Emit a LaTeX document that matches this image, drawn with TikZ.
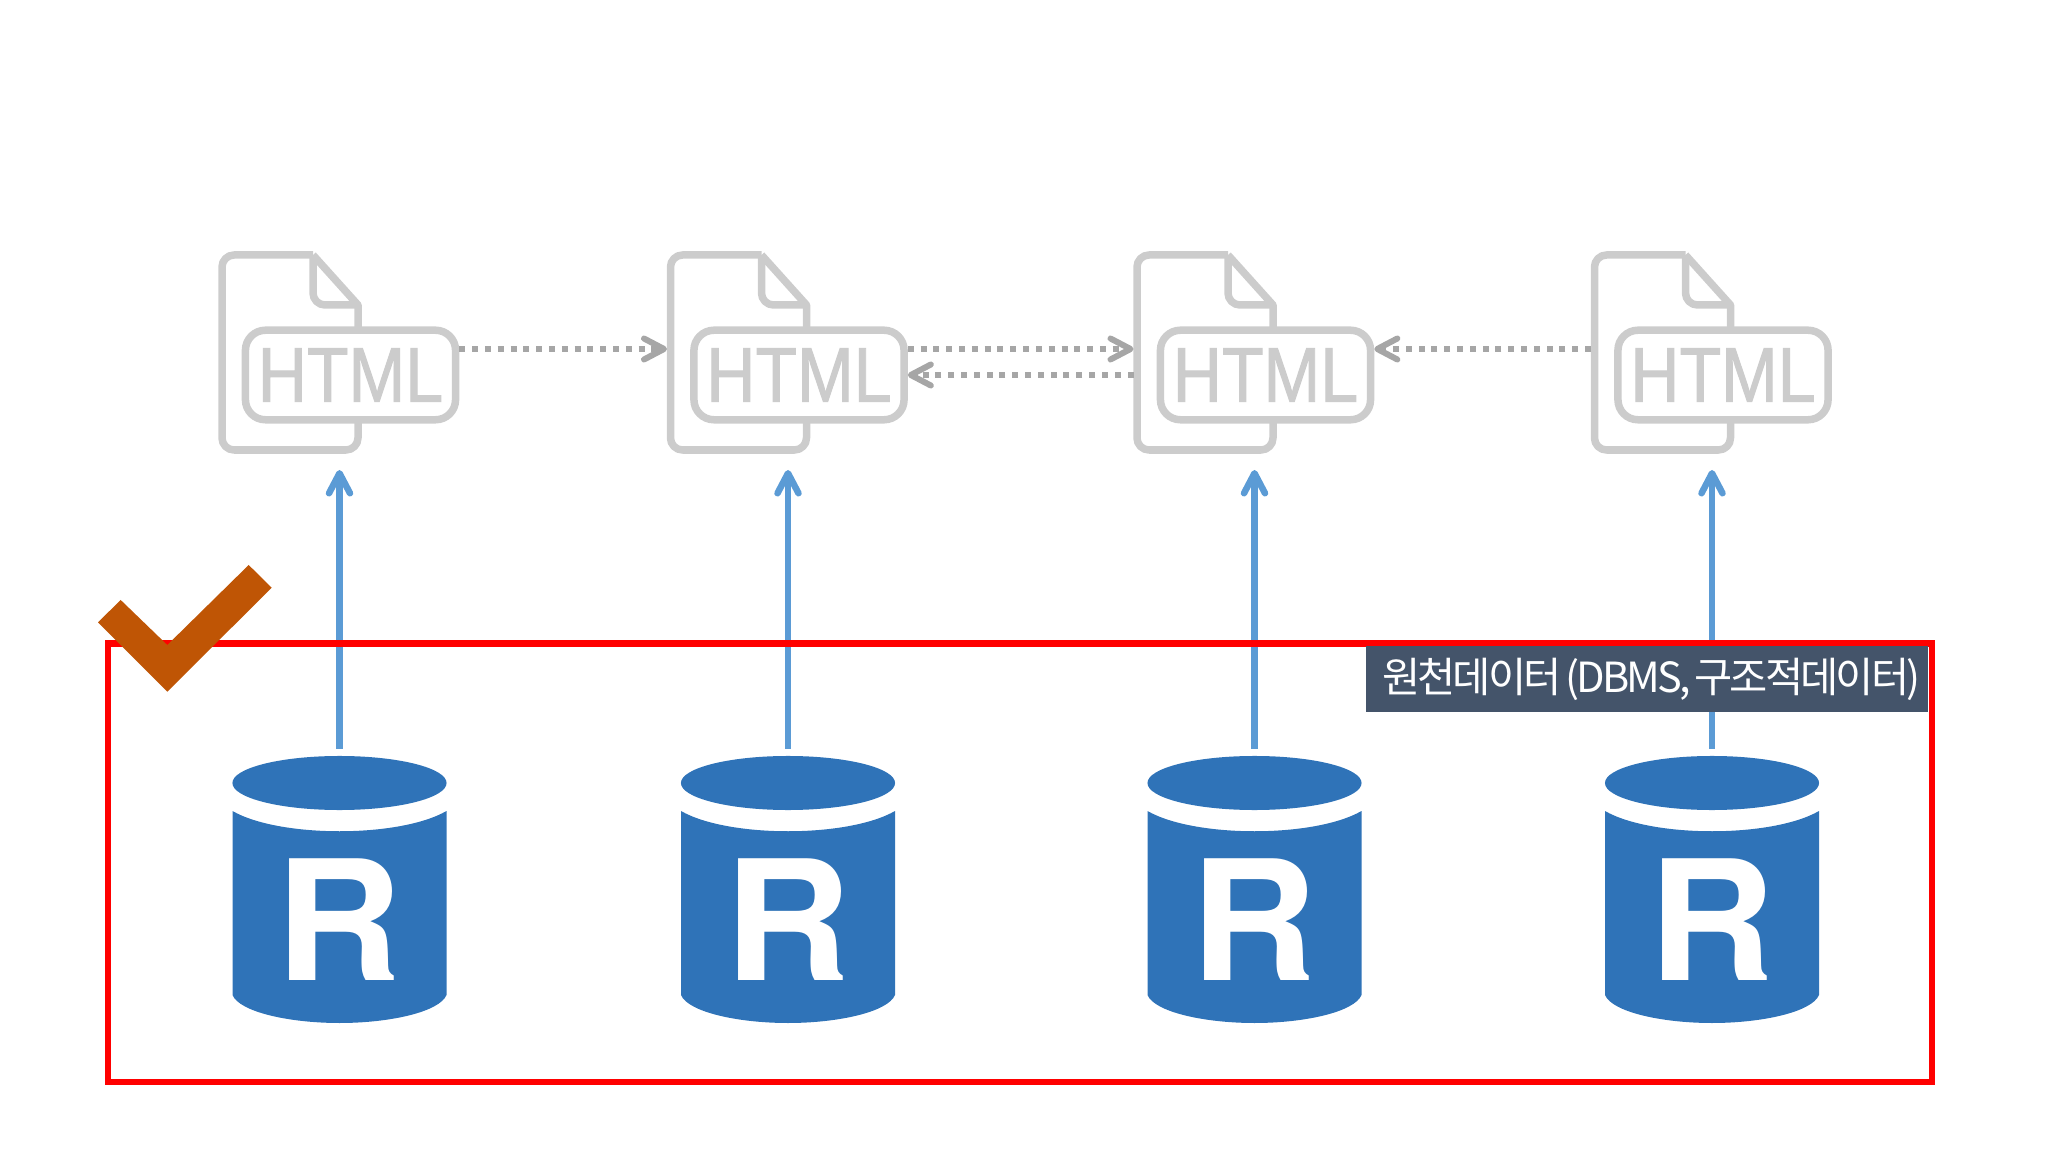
\documentclass[tikz,border=0pt]{standalone}
\usepackage{fontspec}
\usepackage{graphicx}
\usetikzlibrary{arrows.meta}
\newfontfamily\htmlfont[FakeBold=1.4]{Liberation Sans}
\newfontfamily\rfont{TeX Gyre Heros}
\newfontfamily\krfont[LetterSpace=-7,WordSpace=.6]{Noto Sans CJK KR}
\definecolor{docgray}{HTML}{CCCCCC}
\definecolor{linkgray}{HTML}{A6A6A6}
\definecolor{flowblue}{HTML}{5B9BD5}
\definecolor{dbblue}{HTML}{2F73B8}
\definecolor{tickbrown}{HTML}{BF5505}
\definecolor{labelslate}{HTML}{44546A}
\definecolor{boxred}{HTML}{FF0000}
\tikzset{
  docline/.style={docgray, line width=.75mm, line join=round},
  webpage/.style={draw=docgray, line width=.75mm, rounded corners=2mm, fill=white, text=docgray, minimum width=21cm/10, minimum height=8.95mm, inner sep=0pt, font=\htmlfont\fontsize{22}{22}\selectfont},
  dbbody/.style={minimum width=2.14cm, minimum height=2.67cm, inner sep=0pt, outer sep=0pt},
  dbletter/.style={text=white, inner sep=0pt, font=\rfont\bfseries\fontsize{47.5}{47.5}\selectfont},
  hyperlink/.style={linkgray, line width=.6mm, dash pattern=on .6mm off .68mm, -{Straight Barb[length=2mm, width=2.1mm, round]}},
  loadflow/.style={flowblue, line width=.65mm, shorten <=.7mm, -{Straight Barb[length=2mm, width=2.1mm, round]}},
  sitecolumn/.pic={
    % outline, sharp only along the fold
    \draw[docline, rounded corners=1.2mm] (-26.5,255) -- (-117.5,255) -- (-117.5,450) -- (18.5,450) -- (18.5,420);
    \draw[docline] (18.5,327) -- (18.5,305) -- (-26.5,255);
    \draw[docline, rounded corners=1.2mm] (-26.5,255) -- (-26.5,305) -- (18.5,305);
    \node[webpage] (-html) at (11,375) {\scalebox{.88}[1]{HTML}};
    \coordinate (-link) at (-121,349);
    \coordinate (-top) at (0,470);
    \fill[dbblue] (0,783) ellipse [x radius=1.07cm, y radius=.27cm];
    \fill[dbblue] (-107,811) .. controls (-60,838) and (60,838) .. (107,811) -- (107,995) .. controls (100,1012) and (50,1023) .. (0,1023) .. controls (-50,1023) and (-100,1012) .. (-107,995) -- cycle;
    \node[dbbody] (-db) at (0,889.5) {};
    \node[dbletter] (-r) at (-.5,920) {\scalebox{1.05}[1]{R}};
  }
}

\begin{document}
\begin{tikzpicture}[x=.01cm, y=-.01cm]
\useasboundingbox (0,0) rectangle (2048,1152);
\pic (a) at (339.5,0) {sitecolumn};
\pic (b) at (788,0) {sitecolumn};
\pic (c) at (1254.5,0) {sitecolumn};
\pic (d) at (1712,0) {sitecolumn};
% page links
\draw[hyperlink] (a-html.east |- b-link) -- (b-link);
\draw[hyperlink] (b-html.east |- c-link) -- (c-link);
\draw[hyperlink] (c-link |- c-html.east) -- (b-html.east);
\draw[hyperlink] (d-link) -- (c-html.east |- d-link);
% loading
\draw[loadflow] (a-db) -- (a-top);
\draw[loadflow] (b-db) -- (b-top);
\draw[loadflow] (c-db) -- (c-top);
\draw[loadflow] (d-db) -- (d-top);
\draw[boxred, line width=.6mm] (108,643.5) rectangle (1932,1081.5);
\fill[tickbrown] (120.7,600) -- (167.3,645) -- (248.7,565) -- (271.7,587.7) -- (167.3,691.7) -- (98,622.3) -- cycle;
\node[fill=labelslate, text=white, minimum width=5.615cm, minimum height=.66cm, inner sep=0pt] (source) at (1647.25,679) {\hspace*{.8mm}\resizebox{5.38cm}{!}{\krfont 원천데이터 (DBMS, 구조적데이터)}};
\end{tikzpicture}
\end{document}
